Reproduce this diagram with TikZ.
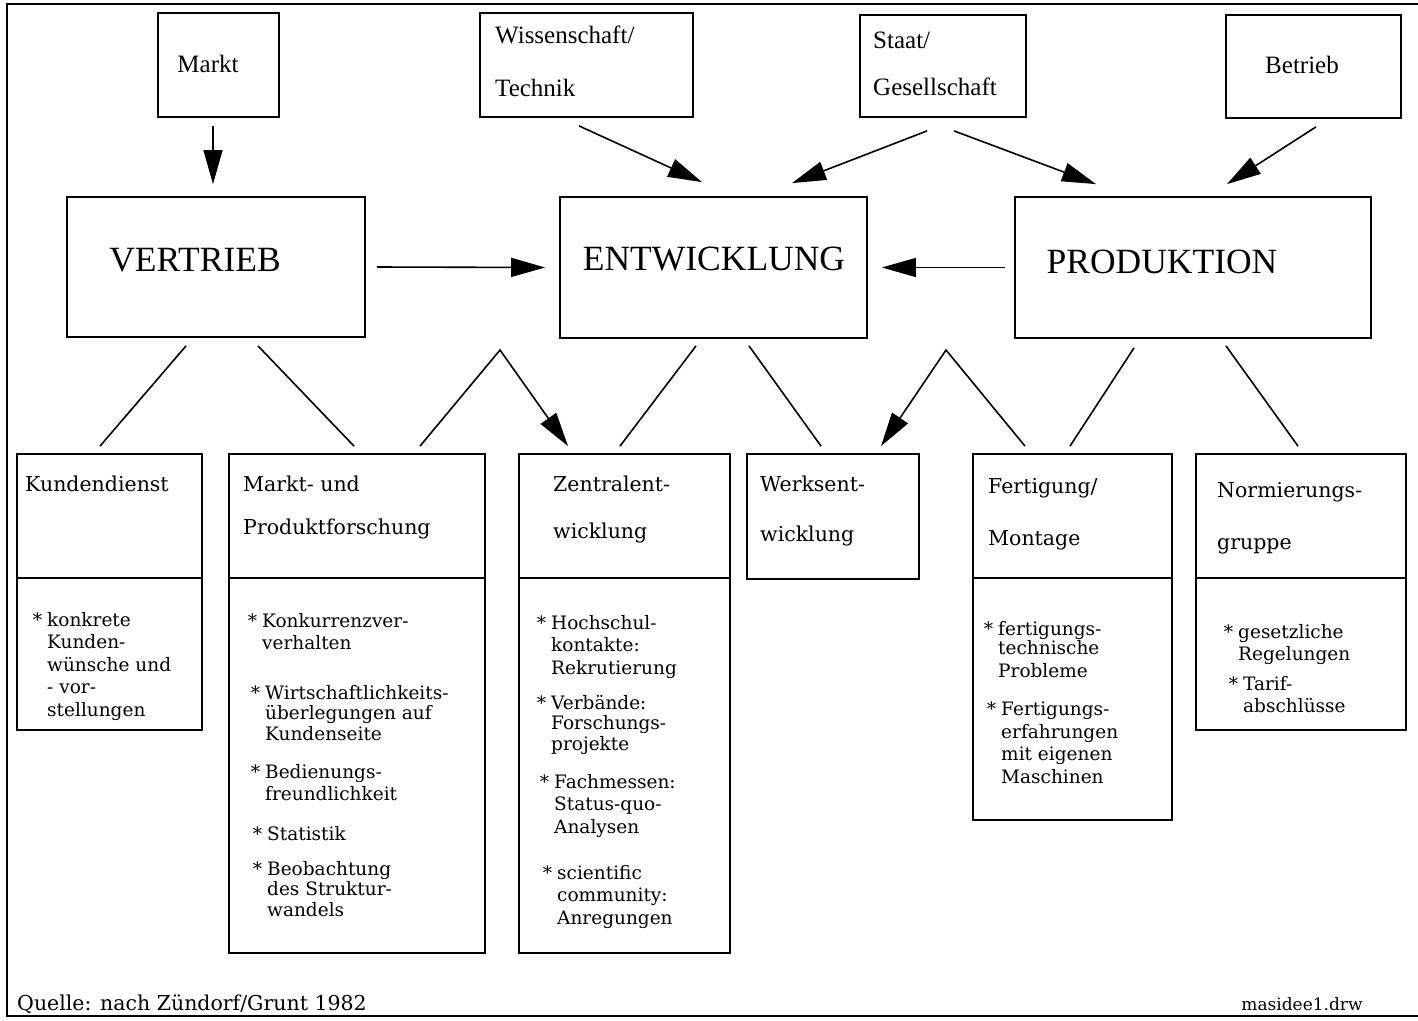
\documentclass[tikz,border=0pt]{standalone}
\usepackage{fontspec}
\setmainfont{Liberation Serif}
\newfontfamily\boxfont{DejaVu Serif}
\usetikzlibrary{arrows.meta}

\newcommand{\bul}{\llap{*\hspace{5pt}}}

\tikzset{
  box/.style={draw, rectangle, line width=1.8pt, inner sep=0pt},
  divide/.style={line width=1.4pt},
  link/.style={line width=1.6pt},
  arr/.style={link, -{Triangle[length=34pt,width=19pt]}},
  toptext/.style={font=\fontsize{25}{53}\selectfont, align=left, inner sep=0pt},
  bigtext/.style={font=\fontsize{35.5}{40}\selectfont, inner sep=0pt},
  titletext/.style={font=\boxfont\fontsize{20.5}{47}\selectfont, align=left, anchor=north west, inner sep=0pt},
  itemtext/.style={font=\boxfont\fontsize{18.5}{22.5}\selectfont, align=left, anchor=north west, inner sep=0pt}
}

\begin{document}
\begin{tikzpicture}[x=1pt, y=-1pt]
\useasboundingbox (0,0) rectangle (1418,1020);

% frame of the page
\draw[line width=1.8pt] (1418,4) -- (7,4) -- (7,1016) -- (1418,1016);

% outside influences
\node[box, minimum width=121pt, minimum height=104pt] (markt) at (218.5,65) {};
\node[box, minimum width=213pt, minimum height=104pt] (wiss) at (586.5,65) {};
\node[box, minimum width=166pt, minimum height=102pt] (staat) at (943,66) {};
\node[box, minimum width=175pt, minimum height=103pt] (betrieb) at (1313.5,66.5) {};

\node[toptext] at (208,64) {Markt};
\node[toptext, anchor=north west] at (495,26) {Wissenschaft/\\Technik};
\node[toptext, anchor=north west] at (873,32) {Staat/\\[-6pt]Gesellschaft};
\node[toptext] at (1302,65) {Betrieb};

% main departments
\node[box, minimum width=298pt, minimum height=140pt] (vertrieb) at (216,267) {};
\node[box, minimum width=307pt, minimum height=141pt] (entw) at (713.5,267.5) {};
\node[box, minimum width=356pt, minimum height=141pt] (prod) at (1193,267.5) {};

\node[bigtext] at (195,260) {VERTRIEB};
\node[bigtext] at (714,259) {ENTWICKLUNG};
\node[bigtext] at (1162,262) {PRODUKTION};

% arrows into the departments
\draw[arr] ([shift={(-5.5,8)}]markt.south) -- ([shift={(-3,-12)}]vertrieb.north);
\draw[arr] ([shift={(-7.5,8)}]wiss.south) -- ([shift={(-11.5,-14)}]entw.north);
\draw[arr] ([shift={(-16,13)}]staat.south) -- ([shift={(78.5,-13)}]entw.north);
\draw[arr] ([shift={(11,13)}]staat.south) -- ([shift={(-97,-12)}]prod.north);
\draw[arr] ([shift={(2.5,8)}]betrieb.south) -- ([shift={(34,-12)}]prod.north);
\draw[arr] ([xshift=11pt]vertrieb.east) -- ([xshift=-14pt]entw.west);
\draw[arr] ([xshift=-9pt]prod.west) -- ([xshift=14pt]entw.east);

% sub units
\node[box, minimum width=185pt, minimum height=276pt] (kunden) at (109.5,592) {};
\node[box, minimum width=256pt, minimum height=499pt] (mpf) at (357,703.5) {};
\node[box, minimum width=211pt, minimum height=499pt] (zentral) at (624.5,703.5) {};
\node[box, minimum width=172pt, minimum height=125pt] (werks) at (833,516.5) {};
\node[box, minimum width=199pt, minimum height=366pt] (fert) at (1072.5,637) {};
\node[box, minimum width=210pt, minimum height=276pt] (norm) at (1301,592) {};

\foreach \b in {kunden,mpf,zentral,fert,norm}
  \draw[divide] ([yshift=-125pt]\b.north west) -- ([yshift=-125pt]\b.north east);

\node[titletext] at (25,476) {Kundendienst};
\node[titletext] at (243,476) {Markt- und\\[-4pt]Produktforschung};
\node[titletext] at (553,476) {Zentralent-\\wicklung};
\node[titletext] at (760,476) {Werksent-\\[3pt]wicklung};
\node[titletext] at (988,478) {Fertigung/\\[5pt]Montage};
\node[titletext] at (1217,482) {Normierungs-\\[5pt]gruppe};

\node[itemtext] at (47,612) {\bul konkrete\\Kunden-\\wünsche und\\- vor-\\stellungen};

\node[itemtext] at (262,613) {\bul Konkurrenzver-\\verhalten};
\node[itemtext] at (265,685) {\bul Wirtschaftlichkeits-\\[-2pt]überlegungen auf\\[-2pt]Kundenseite};
\node[itemtext] at (265,764) {\bul Bedienungs-\\freundlichkeit};
\node[itemtext] at (267,826) {\bul Statistik};
\node[itemtext] at (267,861) {\bul Beobachtung\\[-2pt]des Struktur-\\[-2pt]wandels};

\node[itemtext] at (551,615) {\bul Hochschul-\\kontakte:\\Rekrutierung};
\node[itemtext] at (551,695) {\bul Verbände:\\[-2pt]Forschungs-\\[-2pt]projekte};
\node[itemtext] at (554,774) {\bul Fachmessen:\\Status-quo-\\Analysen};
\node[itemtext] at (557,865) {\bul scientific\\community:\\Anregungen};

\node[itemtext] at (998,621) {\bul fertigungs-\\[-3pt]technische\\Probleme};
\node[itemtext] at (1001,702) {\bul Fertigungs-\\erfahrungen\\mit eigenen\\Maschinen};

\node[itemtext] at (1238,624) {\bul gesetzliche\\Regelungen};
\node[itemtext] at (1243,676) {\bul Tarif-\\abschlüsse};

% links to the sub units
\draw[link] ([shift={(-30,8)}]vertrieb.south) -- ([shift={(-9.5,-7)}]kunden.north);
\draw[link] ([shift={(42,8)}]vertrieb.south) -- ([shift={(-3,-7)}]mpf.north);
\coordinate (apexL) at (500,350);
\draw[arr] ([shift={(63,-7)}]mpf.north) -- (apexL) -- ([shift={(-56.5,-7)}]zentral.north);
\draw[link] ([shift={(-17.5,7)}]entw.south) -- ([shift={(-4.5,-7)}]zentral.north);
\draw[link] ([shift={(35.5,7)}]entw.south) -- ([shift={(-12,-7)}]werks.north);
\coordinate (apexR) at (946,350);
\draw[arr] ([shift={(-47.5,-7)}]fert.north) -- (apexR) -- ([shift={(48,-7)}]werks.north);
\draw[link] ([shift={(-59,9)}]prod.south) -- ([shift={(-2.5,-7)}]fert.north);
\draw[link] ([shift={(33,7)}]prod.south) -- ([shift={(-3,-7)}]norm.north);

% source and file name
\node[font=\boxfont\fontsize{20.5}{24}\selectfont, anchor=base west, inner sep=0pt] (quelle) at (17,1010) {Quelle: nach Zündorf/Grunt 1982};
\node[font=\boxfont\fontsize{17}{20}\selectfont, anchor=base, inner sep=0pt] (datei) at (1302,1010) {masidee1.drw};
\end{tikzpicture}
\end{document}
